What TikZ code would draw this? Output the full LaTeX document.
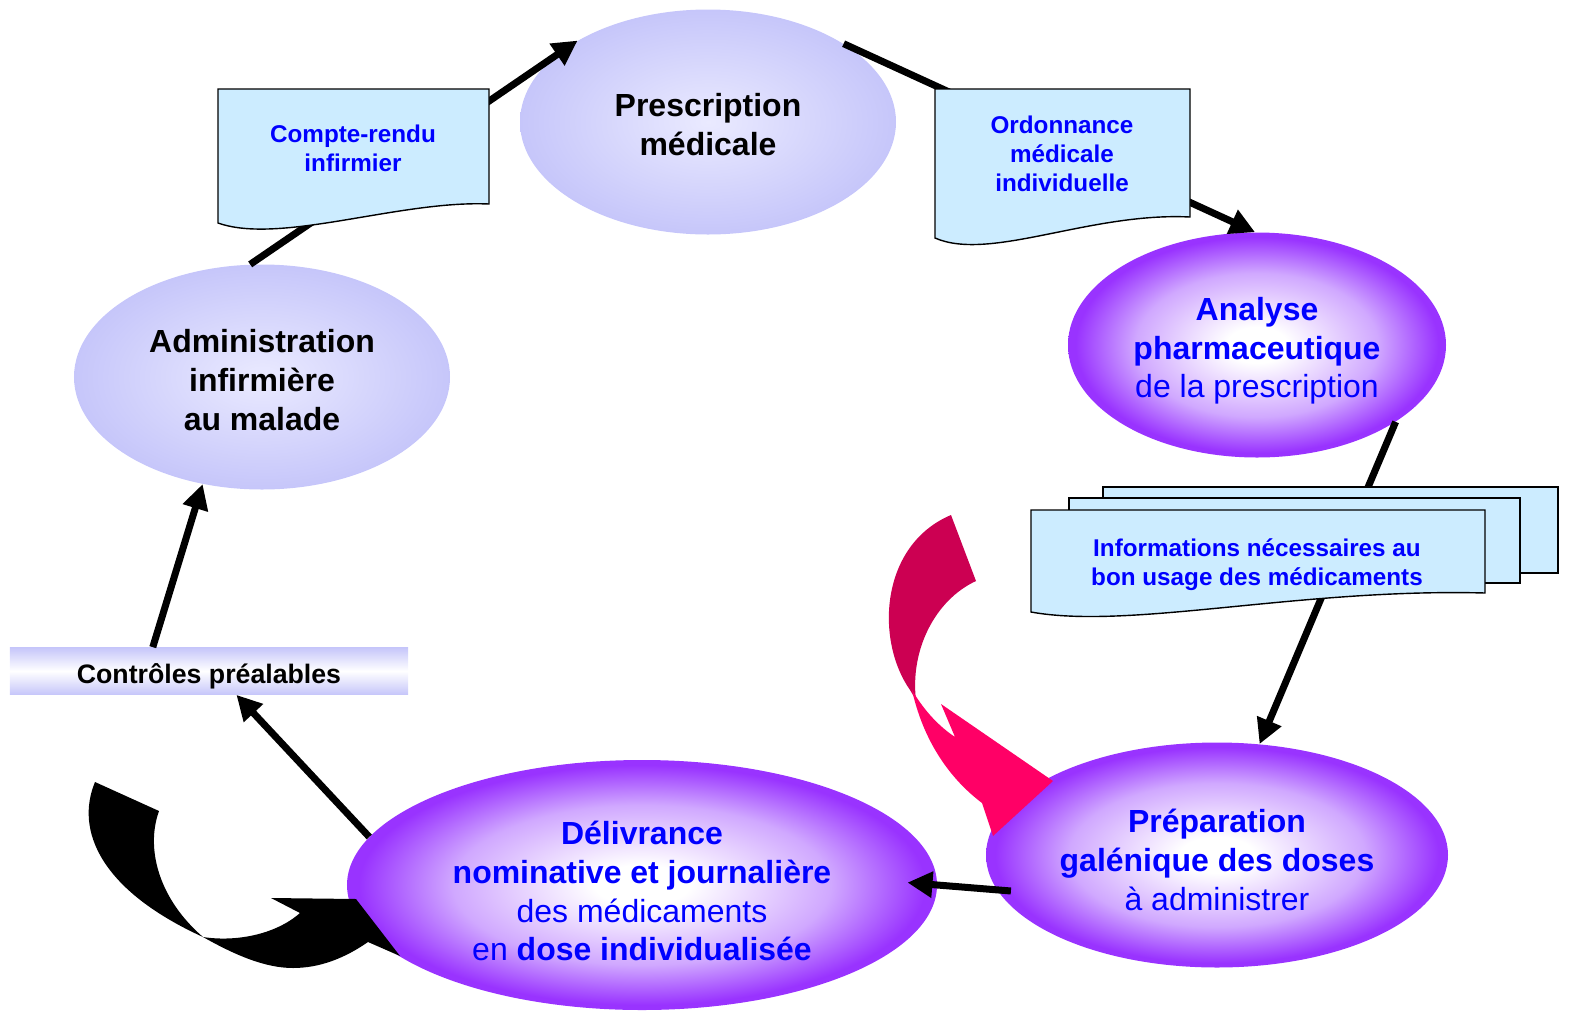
\documentclass[tikz,border=0pt]{standalone}
\usepackage{fontspec}
\setmainfont{Liberation Sans}
\usetikzlibrary{arrows.meta,shapes.geometric}

\definecolor{lavin}{RGB}{234,234,255}
\definecolor{lavout}{RGB}{198,198,250}
\definecolor{violrim}{RGB}{153,51,255}
\definecolor{violmid}{RGB}{208,168,255}
\definecolor{docblue}{RGB}{204,236,255}
\definecolor{crimson}{RGB}{204,0,82}
\definecolor{hotpink}{RGB}{255,0,102}

\pgfdeclareradialshading{violetglow}{\pgfpoint{0bp}{0bp}}{%
  color(0bp)=(white); color(4bp)=(white); color(16bp)=(violmid);
  color(24bp)=(violrim); color(50bp)=(violrim)}

\tikzset{
  lavender/.style={ellipse, inner sep=0pt, inner color=lavin, outer color=lavout,
    align=center, font=\fontsize{18.2}{22}\selectfont\bfseries},
  violet/.style={ellipse, inner sep=0pt, shading=violetglow, text=blue,
    align=center, font=\fontsize{18.2}{22}\selectfont},
  docfill/.style={fill=docblue, draw=black, line width=0.8pt},
  doctext/.style={text=blue, align=center, font=\fontsize{13.8}{16.5}\selectfont\bfseries},
  flow/.style={line width=0.14cm, -{Triangle[length=0.5cm,width=0.5cm]}},
}

\begin{document}
\begin{tikzpicture}[x=0.2mm,y=-0.2mm]
  \useasboundingbox (0,0) rectangle (1573,1014);

  \node[lavender, minimum width=7.52cm, minimum height=4.5cm] (presc) at (708,122)
    {\rule{0pt}{16pt}Prescription\\médicale};
  \node[lavender, minimum width=7.52cm, minimum height=4.5cm] (adm) at (262,377)
    {\rule{0pt}{16.7pt}Administration\\infirmière\\au malade};
  \node[violet, minimum width=7.56cm, minimum height=4.5cm] (ana) at (1257,345)
    {\rule{0pt}{20pt}\textbf{Analyse}\\\textbf{pharmaceutique}\\de la prescription};
  \node[violet, minimum width=9.24cm, minimum height=4.5cm] (prep) at (1217,855)
    {\rule{0pt}{19pt}\textbf{Préparation}\\\textbf{galénique des doses}\\à administrer};
  \node[violet, minimum width=11.8cm, minimum height=5cm] (deliv) at (642,885)
    {\rule{0pt}{20.5pt}\textbf{Délivrance}\\\textbf{nominative et journalière}\\des médicaments\\en \textbf{dose individualisée}};
  \node[minimum width=7.96cm, minimum height=0.94cm, inner sep=0pt,
    top color=lavout, bottom color=lavout, middle color=white,
    font=\fontsize{15.2}{18}\selectfont\bfseries] (ctrl) at (209,671) {\rule{0pt}{17.5pt}Contrôles préalables};

  \draw[flow] (adm.96) -- (presc.148);
  \draw[flow] (presc.30) -- (ana.91);
  \draw[flow] (ana.331) -- (prep.69);
  \draw[flow, shorten <=-0.28cm, shorten >=-0.6cm] (prep.189) -- (deliv.east);
  \draw[flow] (deliv.170) -- (ctrl.-41);
  \draw[flow] (ctrl.157) -- (adm.241);

  \path[docfill] (218,89) -- (489,89) -- (489,204) .. controls (400,200) and (280,245) .. (218,223) -- cycle;
  \node[doctext] (cr) at (353,148) {Compte-rendu\\infirmier};

  \path[docfill] (935,89) -- (1190,89) -- (1190,217) .. controls (1090,212) and (990,262) .. (935,238) -- cycle;
  \node[doctext] (ord) at (1062,154) {Ordonnance\\médicale\\individuelle};

  \path[docfill] (1103,487) rectangle (1558,573);
  \path[docfill] (1069,498) rectangle (1520,583);
  \path[docfill] (1031,510) -- (1485,510) -- (1485,593) .. controls (1300,588) and (1130,630) .. (1031,612) -- cycle;
  \node[doctext] (info) at (1257,565) {Informations nécessaires au\\bon usage des médicaments};

  \fill[crimson] (951,515) -- (976,581) .. controls (935,600) and (910,650) .. (916,700)
    -- (910,690) .. controls (875,640) and (880,545) .. (951,515) -- cycle;
  \fill[hotpink] (912,690) .. controls (925,712) and (940,727) .. (955,737) -- (941,704)
    -- (1053,781) -- (993,836) -- (982,803) .. controls (945,775) and (922,735) .. (912,690) -- cycle;

  \fill[black] (95,782) -- (159,811) .. controls (145,850) and (160,900) .. (203,937)
    .. controls (235,942) and (275,935) .. (300,913) -- (271,898) -- (356,899) -- (400,956)
    -- (368,942) .. controls (345,958) and (320,968) .. (293,968)
    .. controls (265,968) and (235,955) .. (203,937)
    .. controls (100,890) and (75,830) .. (95,782) -- cycle;
\end{tikzpicture}
\end{document}
